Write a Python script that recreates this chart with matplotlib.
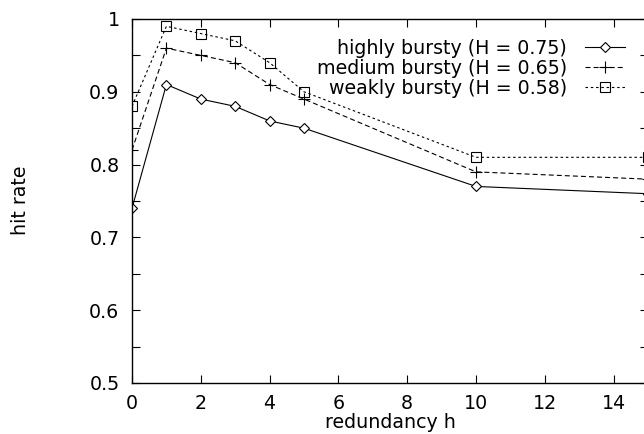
import matplotlib

matplotlib.use("Agg")
import matplotlib.pyplot as plt
from matplotlib.ticker import FixedLocator

plt.rcParams["font.family"] = ["DejaVu Sans"]
plt.rcParams["lines.scale_dashes"] = False

# redundancy h vs hit rate, three burstiness levels
redundancy = [0, 1, 2, 3, 4, 5, 10, 15]
highly = [0.74, 0.91, 0.89, 0.88, 0.86, 0.85, 0.77, 0.76]
medium = [0.82, 0.96, 0.95, 0.94, 0.91, 0.89, 0.79, 0.78]
weakly = [0.88, 0.99, 0.98, 0.97, 0.94, 0.90, 0.81, 0.81]
labels = ["highly bursty (H = 0.75)",
          "medium bursty (H = 0.65)",
          "weakly bursty (H = 0.58)"]
xticks = [0, 2, 4, 6, 8, 10, 12, 14]
yticks = [0.5, 0.6, 0.7, 0.8, 0.9, 1.0]
ytick_labels = ["0.5", "0.6", "0.7", "0.8", "0.9", "1"]
yminor = [0.55, 0.65, 0.75, 0.85, 0.95]

FS = 13.7

fig = plt.figure(figsize=(6.44, 4.34), dpi=100)
# axes run slightly past the right edge of the picture, as in the original crop
ax = fig.add_axes([132 / 644, 51 / 434, 516 / 644, 364 / 434])

ax.plot(redundancy, highly, color="black", lw=0.8, ls="-",
        marker="D", ms=5.5, mfc="white", mec="black", mew=0.8, label=labels[0])
ax.plot(redundancy, medium, color="black", lw=0.8, ls=(0, (3.6, 2.2)),
        marker="+", ms=8, mew=0.8, label=labels[1])
ax.plot(redundancy, weakly, color="black", lw=0.8, ls=(0, (1.8, 2.0)),
        marker="s", ms=6.5, mfc="none", mec="black", mew=0.8, label=labels[2])

ax.set_xlim(0, 15)
ax.set_ylim(0.5, 1.0)
ax.xaxis.set_major_locator(FixedLocator(xticks))
ax.yaxis.set_major_locator(FixedLocator(yticks))
ax.yaxis.set_minor_locator(FixedLocator(yminor))
ax.set_yticklabels(ytick_labels)
ax.tick_params(which="both", direction="in", top=True, right=True,
               length=5.5, width=0.8, labelsize=FS)
ax.tick_params(axis="y", pad=9)
ax.tick_params(axis="x", pad=8)
for s in ax.spines.values():
    s.set_linewidth(1.0)

ax.set_xlabel("redundancy h", fontsize=FS, labelpad=0)
fig.text(20 / 644, 1 - 200 / 434, "hit rate", rotation=90, fontsize=FS,
         ha="center", va="center")

ax.legend(loc="upper right", bbox_to_anchor=(625 / 644, 1 - 39 / 434),
          bbox_transform=fig.transFigure, frameon=False, markerfirst=False,
          fontsize=FS, handlelength=2.1, handletextpad=0.95, labelspacing=0.05,
          borderpad=0, borderaxespad=0)

fig.savefig("out.png", dpi=100)
